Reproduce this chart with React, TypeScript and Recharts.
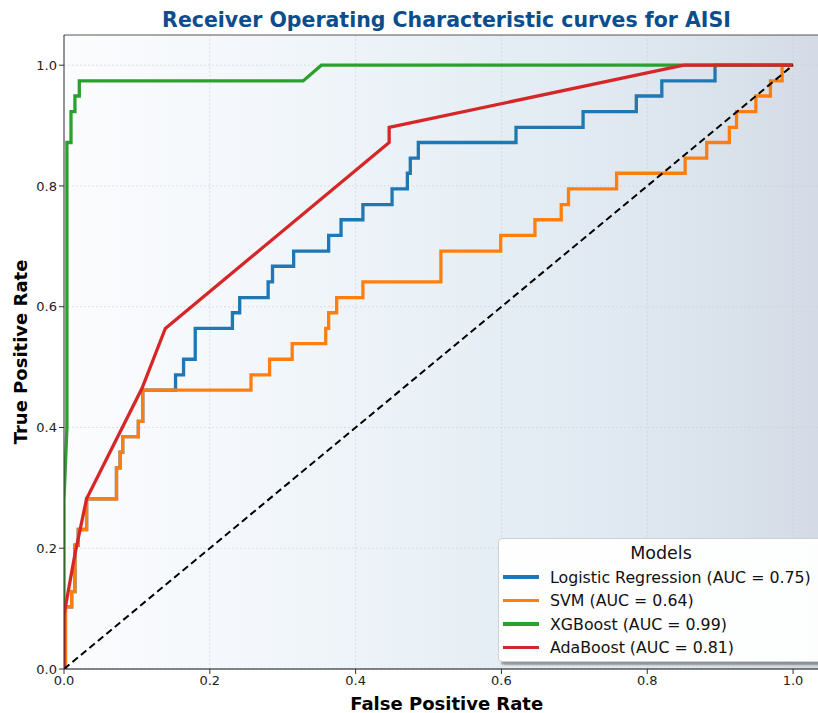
import React from "react";
import {
  LineChart,
  Line,
  XAxis,
  YAxis,
  CartesianGrid,
  ReferenceLine,
  Label,
} from "recharts";

// Tick values
const X_TICKS = [0, 0.2, 0.4, 0.6, 0.8, 1.0];
const Y_TICKS = [0, 0.2, 0.4, 0.6, 0.8, 1.0];

// Logistic Regression (step corners)
const LR_FPR = [0, 0.002, 0.0105, 0.015, 0.0196, 0.031, 0.072, 0.077, 0.0805, 0.102, 0.108, 0.153, 0.164, 0.18, 0.231, 0.241, 0.28, 0.286, 0.315, 0.363, 0.38, 0.41, 0.45, 0.471, 0.475, 0.486, 0.62, 0.712, 0.785, 0.82, 0.893, 1.0];
const LR_TPR = [0, 0.103, 0.128, 0.205, 0.231, 0.282, 0.333, 0.359, 0.385, 0.41, 0.462, 0.487, 0.513, 0.564, 0.59, 0.615, 0.641, 0.667, 0.692, 0.718, 0.744, 0.769, 0.795, 0.821, 0.846, 0.872, 0.897, 0.923, 0.949, 0.974, 1.0, 1.0];

// SVM (step corners)
const SVM_FPR = [0, 0.002, 0.0105, 0.015, 0.0196, 0.031, 0.072, 0.077, 0.0805, 0.102, 0.108, 0.2565, 0.282, 0.313, 0.359, 0.363, 0.374, 0.41, 0.517, 0.599, 0.646, 0.682, 0.692, 0.758, 0.852, 0.8816, 0.9126, 0.9225, 0.949, 0.969, 0.985, 1.0];
const SVM_TPR = [0, 0.103, 0.128, 0.205, 0.231, 0.282, 0.333, 0.359, 0.385, 0.41, 0.462, 0.487, 0.513, 0.539, 0.564, 0.59, 0.615, 0.641, 0.692, 0.718, 0.744, 0.769, 0.795, 0.821, 0.846, 0.872, 0.897, 0.923, 0.949, 0.974, 1.0, 1.0];

// XGBoost (polyline)
const XGB_FPR = [0, 0, 0.004, 0.004, 0.0096, 0.0096, 0.015, 0.015, 0.021, 0.021, 0.328, 0.353, 1.0];
const XGB_TPR = [0, 0.28, 0.4, 0.872, 0.872, 0.923, 0.923, 0.949, 0.949, 0.974, 0.974, 1.0, 1.0];

// AdaBoost (polyline)
const ADA_FPR = [0, 0, 0.015, 0.031, 0.107, 0.139, 0.446, 0.446, 0.85, 1.0];
const ADA_TPR = [0, 0.09, 0.19, 0.282, 0.465, 0.564, 0.872, 0.897, 1.0, 1.0];

// Chance line
const CHANCE_FPR = [0, 1];
const CHANCE_TPR = [0, 1];

const SERIES_NAMES = [
  "Logistic Regression (AUC = 0.75)",
  "SVM (AUC = 0.64)",
  "XGBoost (AUC = 0.99)",
  "AdaBoost (AUC = 0.81)",
];
const COLORS = ["#1f77b4", "#ff7f0e", "#2ca02c", "#d62728"];

const zip = (xs: number[], ys: number[]) => xs.map((x, i) => ({ fpr: x, tpr: ys[i] }));

const lrData = zip(LR_FPR, LR_TPR);
const svmData = zip(SVM_FPR, SVM_TPR);
const xgbData = zip(XGB_FPR, XGB_TPR);
const adaData = zip(ADA_FPR, ADA_TPR);
const chanceData = zip(CHANCE_FPR, CHANCE_TPR);

const FONT = "'DejaVu Sans', sans-serif";

const fmt = (v: number) => v.toFixed(1);

export default function App() {
  return (
    <div
      style={{
        position: "fixed",
        left: 0,
        top: 0,
        width: 818,
        height: 713,
        overflow: "hidden",
        background: "#ffffff",
        fontFamily: FONT,
      }}
    >
      <LineChart
        width={840}
        height={713}
        margin={{ top: 35, right: 10.5, bottom: 0, left: 14 }}
      >
        <defs>
          <linearGradient id="bgGrad" x1="0" y1="0" x2="1" y2="0">
            <stop offset="0%" stopColor="#fbfcfe" />
            <stop offset="25%" stopColor="#f3f7fb" />
            <stop offset="50%" stopColor="#e8f0f6" />
            <stop offset="75%" stopColor="#dfe8f1" />
            <stop offset="100%" stopColor="#d3dae5" />
          </linearGradient>
        </defs>
        <CartesianGrid
          fill="url(#bgGrad)"
          fillOpacity={1}
          stroke="#c9ced4"
          strokeOpacity={0.6}
          strokeDasharray="2 2"
          horizontalValues={Y_TICKS}
          verticalValues={X_TICKS}
        />
        <XAxis
          type="number"
          dataKey="fpr"
          domain={[0, 1.05]}
          ticks={X_TICKS}
          tickFormatter={fmt}
          allowDataOverflow
          height={44}
          stroke="#111"
          tickLine={{ stroke: "#333" }}
          tickSize={5}
          tick={{ fill: "#222", fontSize: 13, fontFamily: FONT }}
        >
          <Label
            content={() => (
              <text
                x={446.7}
                y={703}
                textAnchor="middle"
                dominantBaseline="central"
                fontFamily={FONT}
                fontWeight="bold"
                fontSize={18}
                fill="#000"
              >
                False Positive Rate
              </text>
            )}
          />
        </XAxis>
        <YAxis
          type="number"
          dataKey="tpr"
          domain={[0, 1.05]}
          ticks={Y_TICKS}
          tickFormatter={fmt}
          allowDataOverflow
          width={50}
          stroke="#333"
          tickLine={{ stroke: "#333" }}
          tickSize={5}
          tick={{ fill: "#222", fontSize: 13, fontFamily: FONT }}
        >
          <Label
            content={() => (
              <text
                x={20}
                y={352}
                transform="rotate(-90, 20, 352)"
                textAnchor="middle"
                dominantBaseline="central"
                fontFamily={FONT}
                fontWeight="bold"
                fontSize={18}
                fill="#000"
              >
                True Positive Rate
              </text>
            )}
          />
        </YAxis>
        <ReferenceLine y={1.05} stroke="#555" strokeWidth={1} />
        <Line
          data={lrData}
          dataKey="tpr"
          type="stepAfter"
          stroke={COLORS[0]}
          strokeWidth={3.3}
          dot={false}
          isAnimationActive={false}
        />
        <Line
          data={svmData}
          dataKey="tpr"
          type="stepAfter"
          stroke={COLORS[1]}
          strokeWidth={3.3}
          dot={false}
          isAnimationActive={false}
        />
        <Line
          data={xgbData}
          dataKey="tpr"
          type="linear"
          stroke={COLORS[2]}
          strokeWidth={3.3}
          dot={false}
          isAnimationActive={false}
        />
        <Line
          data={adaData}
          dataKey="tpr"
          type="linear"
          stroke={COLORS[3]}
          strokeWidth={3.3}
          dot={false}
          isAnimationActive={false}
        />
        <Line
          data={chanceData}
          dataKey="tpr"
          type="linear"
          stroke="#000"
          strokeWidth={2}
          strokeDasharray="7 4"
          dot={false}
          isAnimationActive={false}
        />
      </LineChart>

      <div
        style={{
          position: "absolute",
          left: 0,
          top: 7,
          width: 893,
          textAlign: "center",
          fontFamily: FONT,
          fontWeight: "bold",
          fontSize: 20.5,
          color: "#0e4d8c",
          lineHeight: "26px",
        }}
      >
        Receiver Operating Characteristic curves for AISI
      </div>

      <div
        style={{
          position: "absolute",
          left: 498,
          top: 538,
          width: 340,
          height: 122,
          background: "rgba(255,255,255,0.95)",
          border: "1px solid #d0d0d0",
          borderRadius: 4,
          boxShadow: "3px 3px 2px rgba(80,80,80,0.55)",
          fontFamily: FONT,
          color: "#111",
        }}
      >
        <div
          style={{
            position: "absolute",
            left: 0,
            width: 324,
            top: 2,
            textAlign: "center",
            fontSize: 17.5,
            lineHeight: "24px",
          }}
        >
          Models
        </div>
        {SERIES_NAMES.map((name, i) => (
          <div
            key={name}
            style={{
              position: "absolute",
              left: 4,
              top: 27 + i * 23.5,
              height: 22,
              display: "flex",
              alignItems: "center",
              whiteSpace: "nowrap",
            }}
          >
            <div
              style={{
                width: 36,
                height: 3.3,
                background: COLORS[i],
                marginRight: 11,
              }}
            />
            <span style={{ fontSize: 15.8 }}>{name}</span>
          </div>
        ))}
      </div>
    </div>
  );
}
